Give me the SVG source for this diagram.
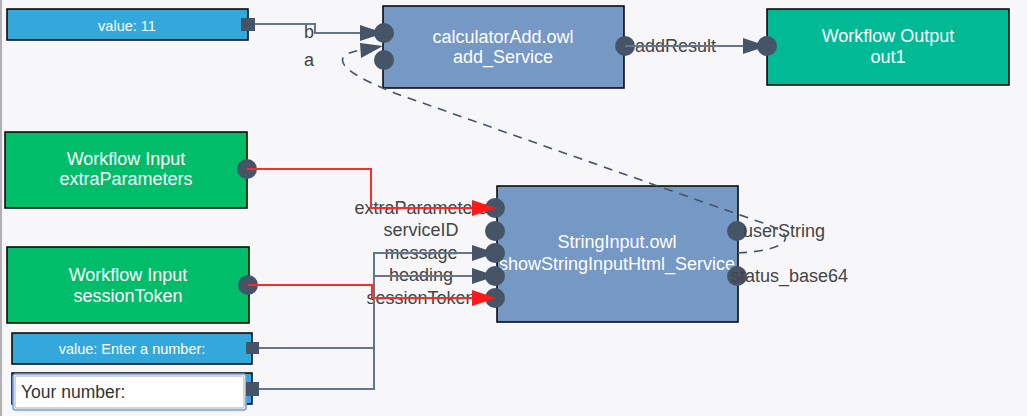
<svg xmlns="http://www.w3.org/2000/svg" width="1027" height="416" viewBox="0 0 1027 416">
<style>
.bg{fill:#f7f7fa}
.node{stroke:#000;stroke-width:1.5}
.svc{fill:#7598c5}
.val{fill:#35a8db}
.win{fill:#00bd69}
.wout{fill:#00b995}
.nt{font-family:"Liberation Sans",Arial,sans-serif;font-size:18px;fill:#fff;text-anchor:middle}
.vt{font-family:"Liberation Sans",Arial,sans-serif;font-size:14.5px;fill:#fff;text-anchor:middle}
.lbl{font-family:"Liberation Sans",Arial,sans-serif;font-size:18px;fill:#444}
.port{fill:#455567}
.conn{fill:none;stroke:#66768a;stroke-width:2}
.red{fill:none;stroke:#ff2b2b;stroke-width:2}
.dash{fill:none;stroke:#455567;stroke-width:1.6;stroke-dasharray:9,7}
.ah{fill:#455567}
.rah{fill:#ff1a1a}
</style>
<rect class="bg" x="0" y="0" width="1027" height="416"/>
<line x1="1" y1="0" x2="1" y2="416" stroke="#9a9a9a" stroke-width="1.5"/>

<g id="node-value11">
<rect class="node val" x="7" y="9" width="241" height="31"/>
<text class="vt" x="127" y="31">value: 11</text>
<rect class="port" x="241" y="18" width="14" height="13"/>
</g>

<g id="node-calculatorAdd">
<rect class="node svc" x="383" y="6" width="241" height="82"/>
<text class="nt" x="503" y="43">calculatorAdd.owl</text>
<text class="nt" x="503" y="63">add_Service</text>
<circle class="port" cx="384" cy="33" r="10"/>
<circle class="port" cx="384" cy="60" r="10"/>
<circle class="port" cx="625" cy="46" r="10"/>
<text class="lbl" x="309" y="38" text-anchor="middle">b</text>
<text class="lbl" x="309" y="66" text-anchor="middle">a</text>
<text class="lbl" x="635" y="52">addResult</text>
</g>

<g id="node-out1">
<rect class="node wout" x="767" y="9" width="242" height="76"/>
<text class="nt" x="888" y="42">Workflow Output</text>
<text class="nt" x="888" y="63">out1</text>
<circle class="port" cx="767" cy="46" r="10"/>
</g>

<g id="node-extraParameters">
<rect class="node win" x="5" y="132" width="242" height="76"/>
<text class="nt" x="126" y="165">Workflow Input</text>
<text class="nt" x="126" y="185">extraParameters</text>
<circle class="port" cx="247" cy="169" r="10"/>
</g>

<g id="node-sessionToken">
<rect class="node win" x="7" y="247" width="242" height="76"/>
<text class="nt" x="128" y="281">Workflow Input</text>
<text class="nt" x="128" y="302">sessionToken</text>
<circle class="port" cx="248" cy="285" r="10"/>
</g>

<g id="node-enterNumber">
<rect class="node val" x="12" y="333" width="240" height="31"/>
<text class="vt" x="132" y="354">value: Enter a number:</text>
<rect class="port" x="246" y="342" width="13" height="12"/>
</g>

<g id="node-yourNumber">
<rect class="node val" x="12" y="373" width="240" height="31"/>
<rect x="13" y="374" width="233" height="36" rx="2.5" fill="#fff" stroke="#6d9ded" stroke-width="1.6"/>
<rect x="15" y="376" width="229" height="32" rx="1.5" fill="#fff" stroke="#a9a9a9" stroke-width="1"/>
<text x="21" y="398" font-family="'Liberation Sans',Arial,sans-serif" font-size="17.5px" fill="#333">Your number:</text>
<rect class="port" x="246" y="382" width="13" height="14"/>
</g>

<g id="node-StringInput">
<rect class="node svc" x="497" y="186" width="241" height="136"/>
<text class="nt" x="617" y="248">StringInput.owl</text>
<text class="nt" x="617" y="270">showStringInputHtml_Service</text>
<circle class="port" cx="495" cy="208" r="10"/>
<circle class="port" cx="495" cy="231" r="10"/>
<circle class="port" cx="495" cy="253" r="10"/>
<circle class="port" cx="495" cy="276" r="10"/>
<circle class="port" cx="495" cy="298" r="10"/>
<circle class="port" cx="737" cy="231" r="10"/>
<circle class="port" cx="737" cy="276" r="10"/>
<text class="lbl" x="421" y="214" text-anchor="middle">extraParameters</text>
<text class="lbl" x="421" y="236" text-anchor="middle">serviceID</text>
<text class="lbl" x="421" y="259" text-anchor="middle">message</text>
<text class="lbl" x="421" y="281" text-anchor="middle">heading</text>
<text class="lbl" x="421" y="304" text-anchor="middle">sessionToken</text>
<text class="lbl" x="743" y="237">userString</text>
<text class="lbl" x="731" y="282">status_base64</text>
</g>

<g id="connectors">
<polyline class="conn" points="255,24 315,24 315,33 362,33"/>
<polygon class="ah" points="360,25 384,33 360,41"/>
<path class="dash" d="M738,253 C792,250 802,234 757,221 L400,95 C365,82 315,58 361,50"/>
<polygon class="ah" points="360,43 383,46 361,58"/>
<line class="conn" x1="625" y1="46" x2="745" y2="46"/>
<polygon class="ah" points="743,38 767,46 743,54"/>
<polyline class="red" points="247,169 371,169 371,208 474,208"/>
<polygon class="rah" points="472,200 496,208 472,216"/>
<polyline class="red" points="248,285 372,285 372,298 474,298"/>
<polygon class="rah" points="472,290 496,298 472,306"/>
<polyline class="conn" points="259,348 374,348 374,253 474,253"/>
<polygon class="ah" points="472,245 496,253 472,261"/>
<polyline class="conn" points="259,389 374,389 374,276 474,276"/>
<polygon class="ah" points="472,268 496,276 472,284"/>
</g>
</svg>
